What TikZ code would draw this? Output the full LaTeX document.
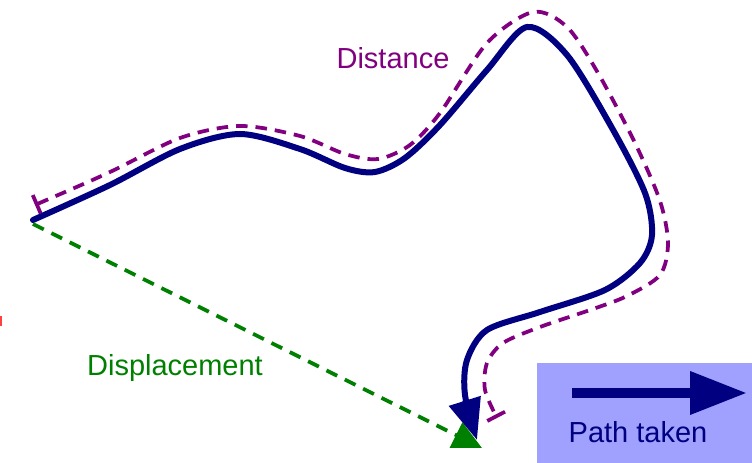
\documentclass[tikz,border=0pt]{standalone}
\usepackage{fontspec}
\setmainfont{Liberation Sans}
\usetikzlibrary{arrows.meta, positioning}
\definecolor{pathblue}{HTML}{000080}
\definecolor{distpurple}{HTML}{800080}
\definecolor{dispgreen}{HTML}{008000}
\definecolor{legendfill}{HTML}{A0A0FF}
\tikzstyle{pathline} = [draw=pathblue, line width=0.12cm, line cap=round, -{Triangle[length=0.82cm, width=0.64cm]}]
\tikzstyle{distline} = [draw=distpurple, line width=0.075cm, dash pattern=on 0.23cm off 0.16cm, {Bar[width=0.4cm]}-{Bar[width=0.4cm]}]
\tikzstyle{displine} = [draw=dispgreen, line width=0.075cm, dash pattern=on 0.24cm off 0.17cm, -{Triangle[length=0.58cm, width=0.55cm]}]
\tikzstyle{labeltext} = [font=\fontsize{16.5}{19}\selectfont, inner sep=0pt]
\tikzstyle{legendbox} = [rectangle, fill=legendfill, minimum width=4.3cm, minimum height=2cm, inner sep=0pt]
\tikzstyle{keyarrow} = [draw=pathblue, line width=0.2cm, -{Triangle[length=1.14cm, width=0.82cm]}]

\begin{document}
\begin{tikzpicture}[x=0.02cm, y=0.02cm]
\useasboundingbox (0,0) rectangle (752,463);

% Points
\coordinate (start) at (33,243);
\coordinate (finish) at (477,23);
\coordinate (dstart) at (35,258);
\coordinate (dend) at (497,45);
\coordinate (gstart) at (33,239);
\coordinate (gend) at (482,15);

% Displacement
\draw[displine] (gstart) -- (gend);

% Distance
\draw[distline] plot[smooth] coordinates {(dstart) (110,291) (180,325) (240,337) (300,327) (345,309) (378,304) (410,318) (440,350) (487,420) (533,451) (567,436) (598,390) (635,320) (660,262) (668,220) (660,188) (627,167) (593,154) (540,136) (503,120) (487,100) (485,73) (dend)};

% Path taken
\draw[pathline] plot[smooth] coordinates {(start) (110,278) (180,314) (240,329) (300,314) (345,295) (375,291) (405,305) (440,338) (487,393) (527,436) (567,408) (612,335) (645,270) (652,228) (640,200) (605,173) (540,151) (487,133) (467,103) (465,68) (finish)};

% Labels
\node[labeltext, text=distpurple] (dist) at (393,405) {Distance};
\node[labeltext, text=dispgreen] (disp) at (175,95) {Displacement};

% Legend
\node[legendbox, anchor=south west] (legend) at (537,0) {};
\coordinate (keytail) at (572,70);
\coordinate (keyhead) at (747,70);
\draw[keyarrow] (keytail) -- (keyhead);
\node[labeltext, text=pathblue] (key) at (638,31) {Path taken};

% Edge mark
\fill[red!75] (0,137) rectangle (2,147);

\end{tikzpicture}
\end{document}
